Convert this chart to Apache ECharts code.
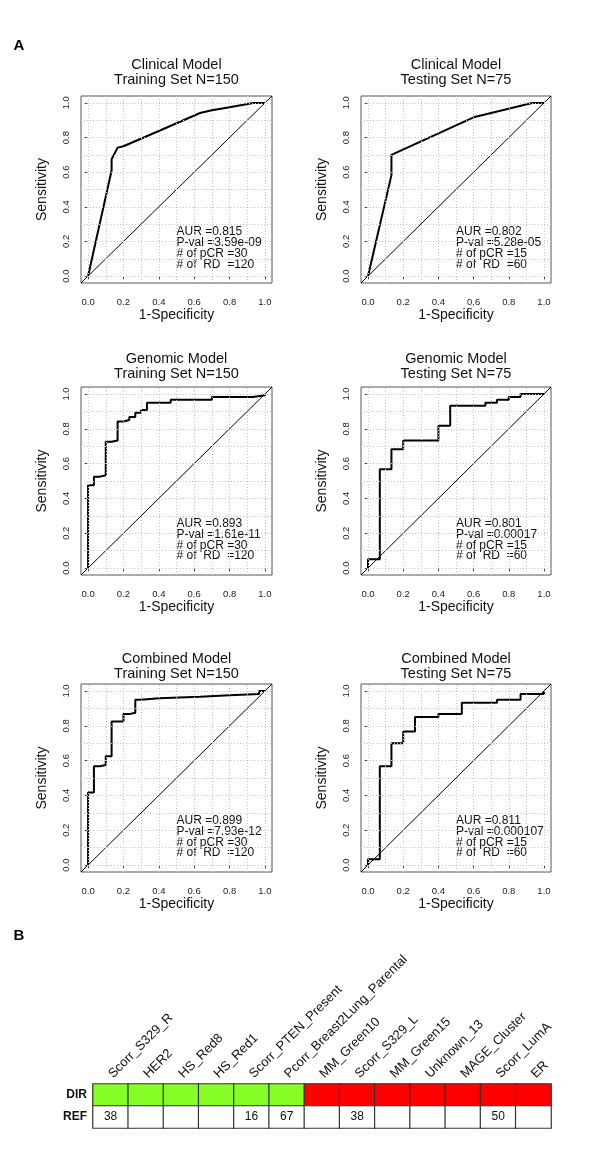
<!DOCTYPE html>
<html><head><meta charset="utf-8">
<script src="https://cdn.jsdelivr.net/npm/echarts@6/dist/echarts.min.js"></script>
<style>html,body{margin:0;padding:0;background:#fff}#c{width:600px;height:1165px}</style>
</head><body><div id="c"></div>
<script>
// ---------- DATA ----------
const panelTitles = [
  'Clinical Model\nTraining Set N=150', 'Clinical Model\nTesting Set N=75',
  'Genomic Model\nTraining Set N=150', 'Genomic Model\nTesting Set N=75',
  'Combined Model\nTraining Set N=150', 'Combined Model\nTesting Set N=75'
];
const aurValues = ['0.815', '0.802', '0.893', '0.801', '0.899', '0.811'];
const pValues = ['3.59e-09', '5.28e-05', '1.61e-11', '0.00017', '7.93e-12', '0.000107'];
const nPCR = [30, 15, 30, 15, 30, 15];
const nRD = [120, 60, 120, 60, 120, 60];

const rocClinicalTrain = [[0,0],[0.133,0.61],[0.133,0.675],[0.167,0.742],[0.2,0.75],[0.4,0.838],[0.633,0.942],[0.7,0.958],[0.8,0.975],[0.933,1],[1,1]];
const rocClinicalTest = [[0,0],[0.133,0.583],[0.133,0.7],[0.6,0.917],[0.933,1],[1,1]];
const rocGenomicTrain = [[0,0],[0,0.475],[0.033,0.475],[0.033,0.525],[0.067,0.525],[0.067,0.533],[0.1,0.533],[0.1,0.725],[0.133,0.725],[0.133,0.733],[0.167,0.733],[0.167,0.842],[0.2,0.842],[0.2,0.85],[0.233,0.85],[0.233,0.867],[0.267,0.867],[0.267,0.892],[0.3,0.892],[0.3,0.908],[0.333,0.908],[0.333,0.95],[0.467,0.95],[0.467,0.967],[0.7,0.967],[0.7,0.983],[0.933,0.983],[0.933,0.992],[1,0.992],[1,1]];
const rocGenomicTest = [[0,0],[0,0.05],[0.067,0.05],[0.067,0.567],[0.133,0.567],[0.133,0.683],[0.2,0.683],[0.2,0.733],[0.4,0.733],[0.4,0.817],[0.467,0.817],[0.467,0.933],[0.667,0.933],[0.667,0.95],[0.733,0.95],[0.733,0.967],[0.8,0.967],[0.8,0.983],[0.867,0.983],[0.867,1],[1,1]];
const rocCombinedTrain = [[0,0],[0,0.417],[0.033,0.417],[0.033,0.567],[0.067,0.567],[0.067,0.575],[0.1,0.575],[0.1,0.625],[0.133,0.625],[0.133,0.825],[0.2,0.825],[0.2,0.867],[0.233,0.867],[0.233,0.875],[0.267,0.875],[0.267,0.95],[0.3,0.95],[0.3,0.958],[0.4,0.958],[0.4,0.967],[0.633,0.967],[0.633,0.975],[0.8,0.975],[0.8,0.983],[0.967,0.983],[0.967,1],[1,1]];
const rocCombinedTest = [[0,0],[0,0.033],[0.067,0.033],[0.067,0.567],[0.133,0.567],[0.133,0.7],[0.2,0.7],[0.2,0.767],[0.267,0.767],[0.267,0.85],[0.4,0.85],[0.4,0.867],[0.533,0.867],[0.533,0.933],[0.733,0.933],[0.733,0.95],[0.867,0.95],[0.867,0.983],[1,0.983],[1,1]];
const rocCurves = [rocClinicalTrain, rocClinicalTest, rocGenomicTrain, rocGenomicTest, rocCombinedTrain, rocCombinedTest];

const axisTickValues = [0, 0.2, 0.4, 0.6, 0.8, 1.0];
const gridLineValues = [0, 0.1, 0.2, 0.3, 0.4, 0.5, 0.6, 0.7, 0.8, 0.9, 1.0];

const features = ['Scorr_S329_R','HER2','HS_Red8','HS_Red1','Scorr_PTEN_Present','Pcorr_Breast2Lung_Parental','MM_Green10','Scorr_S329_L','MM_Green15','Unknown_13','MAGE_Cluster','Scorr_LumA','ER'];
const dirSign = [1, 1, 1, 1, 1, 1, -1, -1, -1, -1, -1, -1, -1];
const refValues = [38, null, null, null, 16, 67, null, 38, null, null, null, 50, null];
const rowLabels = ['REF', 'DIR'];

// ---------- LAYOUT ----------
const FONT = "'Liberation Sans', Arial, sans-serif";
const colLeft = [81, 361], colWidth = [191, 190];
const rowTop = [96, 387, 684], rowHeight = [187, 188, 188];
const titleCenterY = [72.8, 366.8, 666.5];
const AX_MIN = -0.04, AX_MAX = 1.04;

const grids = [], xAxes = [], yAxes = [], series = [];
for (let i = 0; i < 6; i++) {
  const c = i % 2, r = Math.floor(i / 2);
  grids.push({left: colLeft[c], top: rowTop[r], width: colWidth[c], height: rowHeight[r],
    outerBoundsMode: 'none', containLabel: false,
    show: true, borderColor: '#555', borderWidth: 1, backgroundColor: 'transparent'});
  xAxes.push({type: 'value', gridIndex: i, min: AX_MIN, max: AX_MAX,
    axisLine: {show: false},
    axisTick: {show: true, customValues: axisTickValues, length: 4, lineStyle: {color: '#444'}},
    axisLabel: {customValues: axisTickValues, formatter: v => v.toFixed(1), fontSize: 9.5, color: '#222', margin: 14, fontFamily: FONT},
    splitLine: {show: false},
    name: '1-Specificity', nameLocation: 'middle', nameGap: 25,
    nameTextStyle: {fontSize: 14, color: '#111', fontFamily: FONT}});
  yAxes.push({type: 'value', gridIndex: i, min: AX_MIN, max: AX_MAX,
    axisLine: {show: false},
    axisTick: {show: true, customValues: axisTickValues, length: 4, lineStyle: {color: '#444'}},
    axisLabel: {customValues: axisTickValues, formatter: v => v.toFixed(1), fontSize: 9.5, color: '#222', margin: 10, rotate: 90, fontFamily: FONT},
    splitLine: {show: false},
    name: 'Sensitivity', nameLocation: 'middle', nameGap: 32,
    nameTextStyle: {fontSize: 14, color: '#111', fontFamily: FONT}});
  // grid lines
  series.push({type: 'line', xAxisIndex: i, yAxisIndex: i, data: [[AX_MIN, AX_MIN]], symbol: 'none', z: 1,
    lineStyle: {width: 0}, silent: true,
    markLine: {silent: true, symbol: ['none', 'none'], label: {show: false}, animation: false,
      lineStyle: {color: '#c4c4c4', type: [1, 2], width: 1},
      data: gridLineValues.flatMap(v => [{xAxis: v}, {yAxis: v}])}});
  // diagonal
  series.push({type: 'line', xAxisIndex: i, yAxisIndex: i, data: [[AX_MIN, AX_MIN], [AX_MAX, AX_MAX]],
    symbol: 'none', z: 2, silent: true, lineStyle: {color: '#000', width: 1}});
  // ROC curve
  series.push({type: 'line', xAxisIndex: i, yAxisIndex: i, data: rocCurves[i],
    symbol: 'none', z: 3, silent: true, lineStyle: {color: '#000', width: 2}});
}

// heatmap
grids.push({left: 93, top: 1084, width: 458, height: 44, outerBoundsMode: 'none', containLabel: false});
xAxes.push({type: 'category', gridIndex: 6, position: 'top', data: features,
  axisLine: {show: false}, axisTick: {show: false}, splitLine: {show: false},
  axisLabel: {interval: 0, rotate: -45, hideOverlap: false, fontSize: 13, color: '#111', margin: 8, fontFamily: FONT}});
yAxes.push({type: 'category', gridIndex: 6, data: rowLabels,
  axisLine: {show: false}, axisTick: {show: false}, splitLine: {show: false},
  axisLabel: {interval: 0, fontSize: 12, fontWeight: 'bold', color: '#111', margin: 6, fontFamily: FONT}});
const heatData = [];
features.forEach((f, k) => {
  heatData.push([k, 1, dirSign[k]]);
  heatData.push([k, 0, 0]);
});
const heatSeriesIndex = series.length;
series.push({type: 'heatmap', xAxisIndex: 6, yAxisIndex: 6, data: heatData,
  itemStyle: {borderColor: '#333', borderWidth: 1.2},
  label: {show: true, fontSize: 12, color: '#111', fontFamily: FONT,
    formatter: p => (p.value[1] === 0 && refValues[p.value[0]] != null) ? String(refValues[p.value[0]]) : ''}});

const option = {
  animation: false,
  backgroundColor: '#fff',
  grid: grids, xAxis: xAxes, yAxis: yAxes, series: series,
  visualMap: {type: 'piecewise', show: false, seriesIndex: heatSeriesIndex, dimension: 2,
    pieces: [{value: 1, color: '#86fd24'}, {value: -1, color: '#fe0000'}, {value: 0, color: '#ffffff'}]}
};

const chart = echarts.init(document.getElementById('c'), null, {renderer: 'canvas'});
chart.setOption(option);

// texts placed through the chart's own scales
const graphics = [];
graphics.push({type: 'text', x: 19, y: 46, style: {text: 'A', font: "bold 15px " + FONT, fill: '#000', align: 'center', verticalAlign: 'middle'}});
graphics.push({type: 'text', x: 19, y: 936, style: {text: 'B', font: "bold 15px " + FONT, fill: '#000', align: 'center', verticalAlign: 'middle'}});
for (let i = 0; i < 6; i++) {
  const c = i % 2, r = Math.floor(i / 2);
  graphics.push({type: 'text', x: colLeft[c] + colWidth[c] / 2, y: titleCenterY[r],
    style: {text: panelTitles[i], font: "14.5px " + FONT, fill: '#111', align: 'center', verticalAlign: 'middle', lineHeight: 15}});
  const p = chart.convertToPixel({gridIndex: i}, [0.5, 0.255]);
  const lh = 10.8;
  graphics.push({type: 'text', x: p[0], y: p[1] - lh / 2,
    style: {text: 'AUR =' + aurValues[i] + '\nP-val =' + pValues[i] + '\n# of pCR =' + nPCR[i] + '\n# of  RD  =' + nRD[i],
      font: "12px " + FONT, fill: '#111', align: 'left', verticalAlign: 'top', lineHeight: lh}});
}
chart.setOption({graphic: graphics});
</script>
</body></html>
